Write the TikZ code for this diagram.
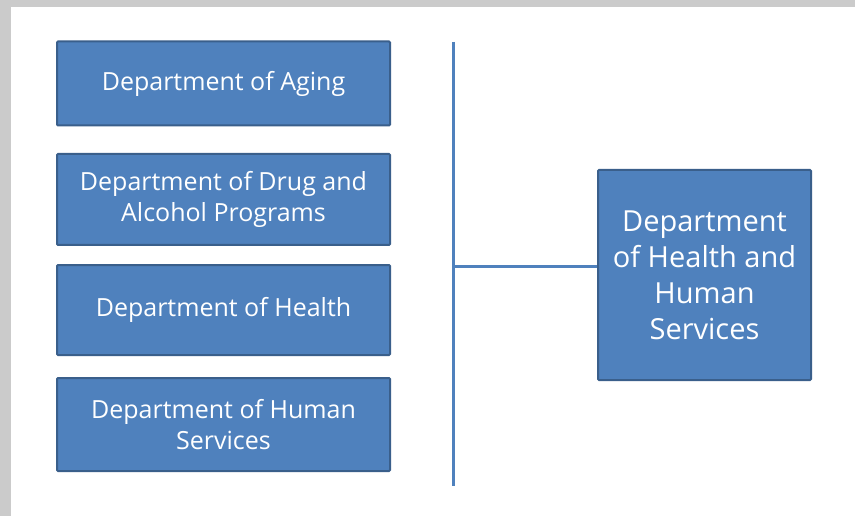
\documentclass[tikz,border=0pt]{standalone}
\usepackage{fontspec}
\setmainfont{Open Sans}
\definecolor{deptblue}{HTML}{4F81BD}
\definecolor{deptedge}{HTML}{3A5F8B}
\definecolor{framegray}{HTML}{CBCBCB}
\tikzset{
  dept/.style={draw=deptedge, line width=2pt, fill=deptblue, text=white,
    rounded corners=1pt, minimum width=333pt, align=center,
    font=\fontsize{25}{31}\selectfont},
  link/.style={draw=deptblue, line width=3pt}
}

\begin{document}
\begin{tikzpicture}[x=1pt,y=-1pt]
      % frame
      \fill[framegray] (0,0) rectangle (855,516);
      \fill[white] (11,7) rectangle (855,516);
      \useasboundingbox (0,0) rectangle (855,516);
      % departments
      \node[dept, minimum height=84pt] (aging) at (223.5,83.5) {Department of Aging};
      \node[dept, minimum height=91pt] (drug) at (223.5,199.5) {Department of Drug and\\Alcohol Programs};
      \node[dept, minimum height=90pt] (health) at (223.5,310) {Department of Health};
      \node[dept, minimum height=93pt] (human) at (223.5,424.5) {Department of Human\\Services};
      \node[dept, minimum width=213pt, minimum height=210pt, font=\fontsize{29}{36}\selectfont] (dhhs) at (704.5,275)
        {Department\\of Health and\\Human\\Services};
      % connector
      \coordinate (top) at (453,42);
      \coordinate (bottom) at (453,486);
      \coordinate (joint) at (453,266);
      \draw[link] (top) -- (bottom);
      \draw[link] (joint) -- (joint -| dhhs.west);
\end{tikzpicture}
\end{document}
